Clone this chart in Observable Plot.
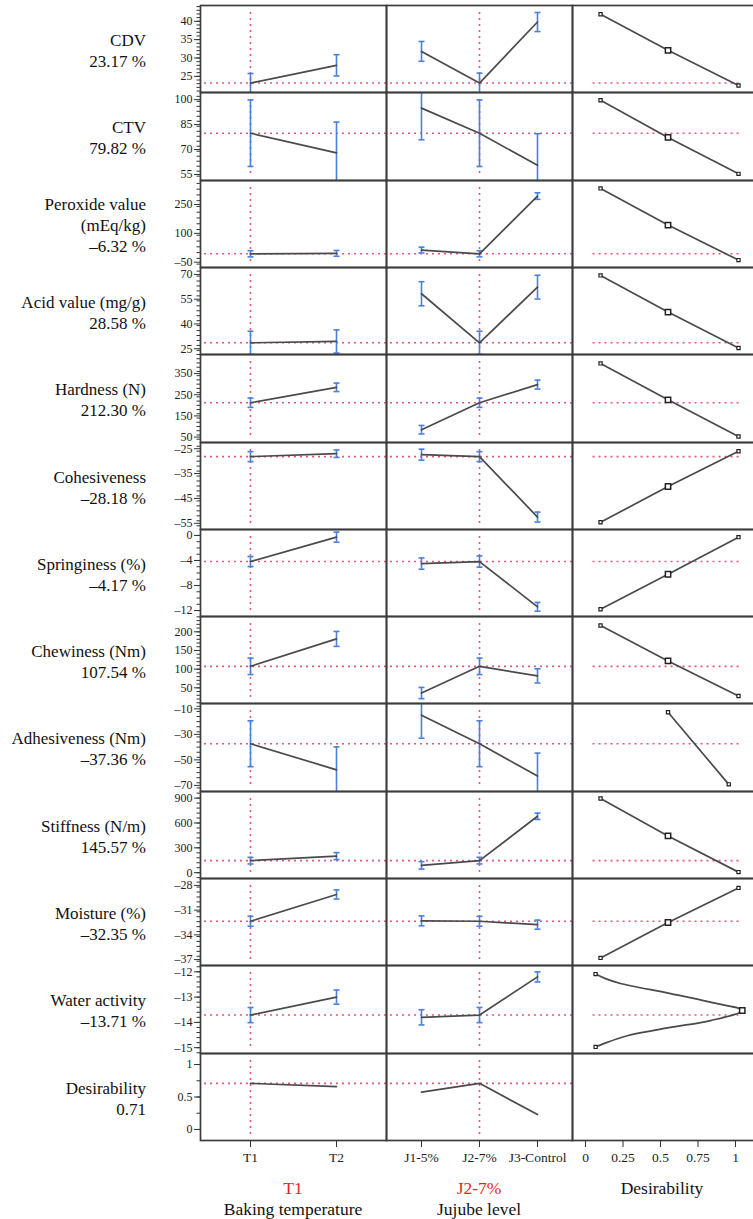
<!DOCTYPE html>
<html>
<head>
<meta charset="utf-8">
<script src="https://cdn.jsdelivr.net/npm/d3@7"></script>
<script src="https://cdn.jsdelivr.net/npm/@observablehq/plot@0.6"></script>
<style>
  html, body { margin: 0; padding: 0; background: #fff; overflow: hidden; }
  #chart { position: relative; width: 753px; height: 1219px; font-family: "Liberation Serif", "Times New Roman", serif; color: #111; overflow: hidden; }
  .cell { position: absolute; }
  .cell svg { overflow: visible; max-width: none !important; display: block; }
  .rowlab { position: absolute; left: 0; width: 146px; display: flex; flex-direction: column; justify-content: center; align-items: flex-end; font-size: 17px; line-height: 21px; text-align: right; white-space: nowrap; }
  .botlab { position: absolute; transform: translateX(-50%); font-size: 17.5px; line-height: 21px; white-space: nowrap; text-align: center; }
  .red { color: #ee1c25; }
</style>
</head>
<body>
<div id="chart"></div>
<script>
// ---------------- data ----------------
const rowLabelLines = [
  ["CDV", "23.17 %"],
  ["CTV", "79.82 %"],
  ["Peroxide value", "(mEq/kg)", "–6.32 %"],
  ["Acid value (mg/g)", "28.58 %"],
  ["Hardness (N)", "212.30 %"],
  ["Cohesiveness", "–28.18 %"],
  ["Springiness (%)", "–4.17 %"],
  ["Chewiness (Nm)", "107.54 %"],
  ["Adhesiveness (Nm)", "–37.36 %"],
  ["Stiffness (N/m)", "145.57 %"],
  ["Moisture (%)", "–32.35 %"],
  ["Water activity", "–13.71 %"],
  ["Desirability", "0.71"]
];
const currentValues = [23.17, 79.82, -6.32, 28.58, 212.30, -28.18, -4.17, 107.54, -37.36, 145.57, -32.35, -13.71, 0.71];

const tempLevels = ["T1", "T2"];
const jujubeLevels = ["J1-5%", "J2-7%", "J3-Control"];
const currentTemp = "T1";
const currentJujube = "J2-7%";

const yDomains = [
  [20.6, 44.3], [51.4, 104.3], [-77.6, 375], [21.5, 74.2], [24.5, 440],
  [-57.5, -22.5], [-12.95, 0.95], [8, 241], [-74.8, -5.8], [-70, 980],
  [-37.72, -27.16], [-15.23, -11.75], [-0.17, 1.17]
];
const yMajorTicks = [
  [25, 30, 35, 40], [55, 70, 85, 100], [-50, 100, 250], [25, 40, 55, 70], [50, 150, 250, 350],
  [-55, -45, -35, -25], [-12, -8, -4, 0], [50, 100, 150, 200], [-70, -50, -30, -10], [0, 300, 600, 900],
  [-37, -34, -31, -28], [-15, -14, -13, -12], [0, 0.5, 1]
];
const yMinorSteps = [1, 3, 30, 3, 20, 2, 1, 10, 4, 60, 0.6, 0.2, 0.25];

// Baking temperature profile (T1, T2): predicted values and CI half-widths
const tempMeans = [
  [23.17, 28.0], [79.82, 68.0], [-6.32, -4.0], [28.58, 29.4], [212.30, 285],
  [-28.18, -27.0], [-4.17, -0.27], [107.54, 181], [-37.36, -57.8], [145.57, 200],
  [-32.35, -29.1], [-13.71, -13.0], [0.71, 0.66]
];
const tempErrors = [
  [2.6, 2.9], [20, 18.5], [16, 15], [7, 7], [22, 20],
  [2, 1.5], [0.8, 0.8], [22, 20], [18, 18], [40, 42],
  [0.6, 0.55], [0.3, 0.28], null
];
// Jujube level profile (J1-5%, J2-7%, J3-Control)
const jujubeMeans = [
  [31.8, 23.17, 39.8], [94.9, 79.82, 60.5], [13, -6.32, 294], [58.3, 28.58, 62.3], [85, 212.30, 298],
  [-27.4, -28.18, -52.5], [-4.5, -4.17, -11.4], [36, 107.54, 82], [-15, -37.36, -62.7], [89, 145.57, 681],
  [-32.3, -32.35, -32.76], [-13.8, -13.71, -12.2], [0.575, 0.71, 0.23]
];
const jujubeErrors = [
  [2.7, 2.7, 2.6], [19, 20, 19], [15, 16, 17], [7.3, 7, 7.2], [20, 22, 21],
  [2.2, 2, 2], [0.9, 0.9, 0.7], [15, 22, 19], [18, 18, 18], [45, 40, 38],
  [0.6, 0.6, 0.55], [0.3, 0.3, 0.2], null
];
// Desirability functions: desirability (x) vs response (y)
const desirX = [
  [0.1, 0.55, 1.02], [0.1, 0.55, 1.02], [0.1, 0.55, 1.02], [0.1, 0.55, 1.02], [0.1, 0.55, 1.02],
  [0.1, 0.55, 1.02], [0.1, 0.55, 1.02], [0.1, 0.55, 1.02], [0.55, 0.955], [0.1, 0.55, 1.02],
  [0.1, 0.55, 1.02],
  [0.067, 0.133, 0.233, 0.567, 0.833, 1.045, 0.833, 0.567, 0.278, 0.122, 0.067],
  null
];
const desirY = [
  [41.9, 32.1, 22.5], [99.6, 77.3, 55.4], [334, 143, -39], [69.4, 47.2, 25.4], [398, 226, 53],
  [-54.6, -40.2, -26], [-11.8, -6.2, -0.27], [217, 122, 28], [-12.7, -69.2], [895, 444, 7],
  [-36.8, -32.5, -28.3],
  [-12.09, -12.27, -12.46, -12.86, -13.2, -13.53, -13.93, -14.2, -14.53, -14.84, -14.97],
  null
];
const desirMidIndex = [1, 1, 1, 1, 1, 1, 1, 1, null, 1, 1, 5, null];
const desirTicks = [0, 0.25, 0.5, 0.75, 1];
const desirDomain = [-0.087, 1.18];
const desirRuleExtent = [0.05, 1.03];

const factorTitles = ["Baking temperature", "Jujube level", "Desirability"];
const factorCurrent = ["T1", "J2-7%", null];

// ---------------- layout & style ----------------
const RED = "#e8577a";
const BLUE = "#4b7fdc";
const LINE = "#4a4a4a";
const FRAME = "#3c3c3c";
const FONT = "Liberation Serif, Times New Roman, serif";
const colX = [200, 386, 572];
const colW = [186, 186, 190];
const top0 = 5, bottom0 = 1140, nRows = 13;
const rowTop = i => Math.round(top0 + i * (bottom0 - top0) / nRows);

const fmt = d => (d < 0 ? "–" + Math.abs(d) : String(d));
const capSymbol = { draw(ctx, size) { const w = Math.sqrt(size / Math.PI); ctx.moveTo(-w, 0); ctx.lineTo(w, 0); } };

const chart = document.getElementById("chart");

function minorTicks(domain, step) {
  const out = [];
  const start = Math.ceil(domain[0] / step - 1e-9);
  const end = Math.floor(domain[1] / step + 1e-9);
  for (let k = start; k <= end; k++) out.push(+(k * step).toFixed(6));
  return out;
}

function profileMarks(levels, means, errs, current, value) {
  const rows = levels.map((lv, k) => ({
    level: lv, mean: means[k],
    lo: errs ? means[k] - errs[k] : null,
    hi: errs ? means[k] + errs[k] : null
  }));
  const m = [
    Plot.ruleY([value], { stroke: RED, strokeWidth: 1.6, strokeDasharray: "2,4", insetLeft: 4 }),
    Plot.ruleX([current], { stroke: RED, strokeWidth: 1.6, strokeDasharray: "2,4", insetTop: 7, insetBottom: 3 })
  ];
  if (errs) {
    m.push(Plot.ruleX(rows, { x: "level", y1: "lo", y2: "hi", stroke: BLUE, strokeWidth: 1.6, clip: true }));
    m.push(Plot.dot(rows, { x: "level", y: "lo", symbol: capSymbol, r: 3, stroke: BLUE, strokeWidth: 1.6, clip: true }));
    m.push(Plot.dot(rows, { x: "level", y: "hi", symbol: capSymbol, r: 3, stroke: BLUE, strokeWidth: 1.6, clip: true }));
  }
  m.push(Plot.line(rows, { x: "level", y: "mean", stroke: LINE, strokeWidth: 1.7 }));
  return m;
}

for (let i = 0; i < nRows; i++) {
  const t = rowTop(i), h = rowTop(i + 1) - t;
  const last = i === nRows - 1;

  // row label
  const lab = document.createElement("div");
  lab.className = "rowlab";
  lab.style.top = (t + 2) + "px";
  lab.style.height = h + "px";
  rowLabelLines[i].forEach(s => { const d = document.createElement("div"); d.textContent = s; lab.appendChild(d); });
  chart.appendChild(lab);

  for (let j = 0; j < 3; j++) {
    const mL = j === 0 ? 70 : 3, mR = 3, mT = 3, mB = last ? 40 : 3;
    const marks = [];
    let xOpts;
    if (j === 0) {
      xOpts = { type: "point", domain: tempLevels, padding: 0.58, axis: null };
      marks.push(...profileMarks(tempLevels, tempMeans[i], tempErrors[i], currentTemp, currentValues[i]));
      marks.push(Plot.axisY({ ticks: minorTicks(yDomains[i], yMinorSteps[i]), tickSize: 3.5, tickFormat: () => "", label: null, stroke: "#333" }));
      marks.push(Plot.axisY({ ticks: yMajorTicks[i], tickSize: 6, tickPadding: 2, tickFormat: fmt, label: null, fontSize: 12, fontFamily: FONT, stroke: "#333", fill: "#222" }));
    } else if (j === 1) {
      xOpts = { type: "point", domain: jujubeLevels, padding: 0.6, axis: null };
      marks.push(...profileMarks(jujubeLevels, jujubeMeans[i], jujubeErrors[i], currentJujube, currentValues[i]));
    } else {
      xOpts = { type: "linear", domain: desirDomain, axis: null };
      if (desirX[i]) {
        const pts = desirX[i].map((d, k) => ({ d, v: desirY[i][k] }));
        marks.push(Plot.ruleY([currentValues[i]], { x1: desirRuleExtent[0], x2: desirRuleExtent[1], stroke: RED, strokeWidth: 1.6, strokeDasharray: "2,4" }));
        marks.push(Plot.line(pts, { x: "d", y: "v", stroke: LINE, strokeWidth: 1.7, curve: pts.length > 3 ? "catmull-rom" : "linear" }));
        marks.push(Plot.dot([pts[0], pts[pts.length - 1]], { x: "d", y: "v", symbol: "square", r: 1.8, stroke: "#222", strokeWidth: 1.2, fill: "#fff" }));
        if (desirMidIndex[i] != null) {
          marks.push(Plot.dot([pts[desirMidIndex[i]]], { x: "d", y: "v", symbol: "square", r: 3, stroke: "#222", strokeWidth: 1.5, fill: "#fff" }));
        }
      }
    }
    marks.push(Plot.frame({ stroke: FRAME, strokeWidth: 1.7 }));
    if (last) {
      if (j === 2) {
        marks.push(Plot.axisX({ ticks: desirTicks, tickFormat: d => String(d), tickSize: 7, tickPadding: 5, label: null, fontSize: 13.5, fontFamily: FONT, stroke: "#333", fill: "#222" }));
      } else {
        marks.push(Plot.axisX({ tickSize: 7, tickPadding: 5, label: null, fontSize: 13.5, fontFamily: FONT, stroke: "#333", fill: "#222" }));
      }
    }
    const W = colW[j] + mL + mR, H = h + mT + mB;
    const svg = Plot.plot({
      width: W,
      height: H,
      marginLeft: mL, marginRight: mR, marginTop: mT, marginBottom: mB,
      x: xOpts,
      y: { domain: yDomains[i], axis: null },
      style: { background: "transparent", overflow: "visible", fontFamily: FONT, maxWidth: "none" },
      marks
    });
    svg.style.width = W + "px";
    svg.style.height = H + "px";
    const div = document.createElement("div");
    div.className = "cell";
    div.style.left = (colX[j] - mL) + "px";
    div.style.top = (t - mT) + "px";
    div.style.width = W + "px";
    div.style.height = H + "px";
    div.appendChild(svg);
    chart.appendChild(div);
  }
}

// bottom factor labels
const centers = [293, 479, 662];
factorTitles.forEach((title, j) => {
  if (factorCurrent[j]) {
    const r = document.createElement("div");
    r.className = "botlab red";
    r.style.left = centers[j] + "px";
    r.style.top = "1178px";
    r.textContent = factorCurrent[j];
    chart.appendChild(r);
    const b = document.createElement("div");
    b.className = "botlab";
    b.style.left = centers[j] + "px";
    b.style.top = "1199px";
    b.textContent = title;
    chart.appendChild(b);
  } else {
    const b = document.createElement("div");
    b.className = "botlab";
    b.style.left = centers[j] + "px";
    b.style.top = "1178px";
    b.textContent = title;
    chart.appendChild(b);
  }
});
</script>
</body>
</html>
